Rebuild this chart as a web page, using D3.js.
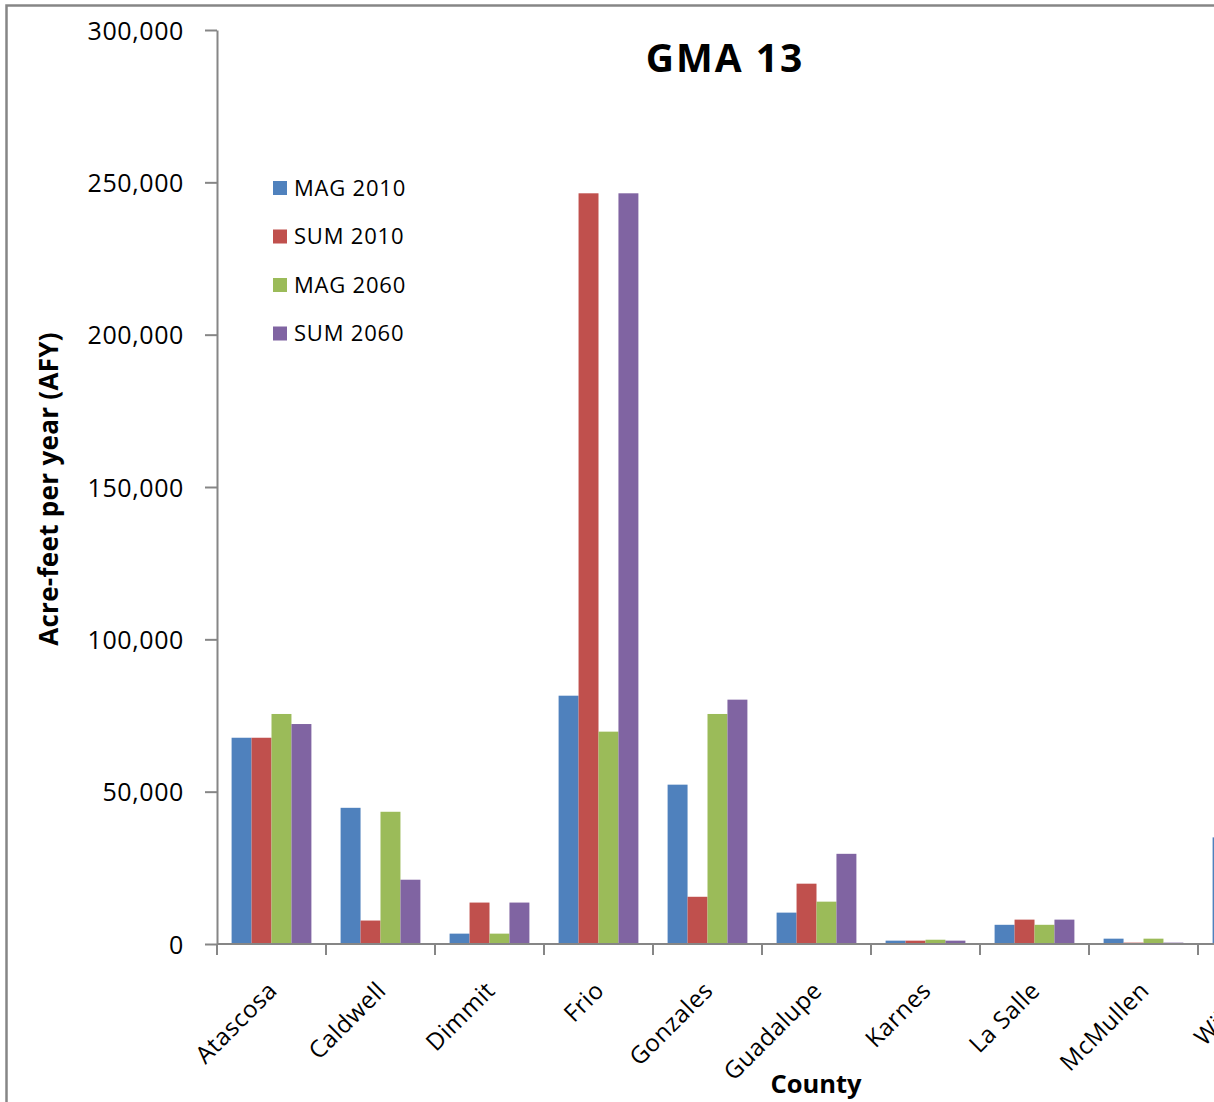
<!DOCTYPE html>
<html>
<head>
<meta charset="utf-8">
<title>GMA 13</title>
<script src="https://cdn.jsdelivr.net/npm/d3@7"></script>
<style>
  html, body { margin: 0; padding: 0; background: #fff; overflow: hidden; }
  svg { display: block; font-family: "Open Sans", "DejaVu Sans", sans-serif; }
</style>
</head>
<body>
<svg id="chart" width="1214" height="1102"></svg>
<script>
// Counties along the category axis
const categories = ["Atascosa", "Caldwell", "Dimmit", "Frio", "Gonzales", "Guadalupe", "Karnes", "La Salle", "McMullen", "Wilson"];

// Acre-feet per year for each series (null = not shown)
const mag2010 = [67700, 44700, 3400, 81500, 52300, 10300, 1100, 6300, 1750, 35000];
const sum2010 = [67700, 7700, 13600, 246400, 15500, 19800, 1100, 8000, 450, null];
const mag2060 = [75500, 43400, 3400, 69700, 75500, 13900, 1400, 6300, 1750, null];
const sum2060 = [72200, 21100, 13600, 246400, 80200, 29600, 1100, 8000, 450, null];

const seriesNames = ["MAG 2010", "SUM 2010", "MAG 2060", "SUM 2060"];
const seriesValues = [mag2010, sum2010, mag2060, sum2060];
const seriesColors = ["#4F81BD", "#C0504D", "#9BBB59", "#8064A2"];

const yTicks = [0, 50000, 100000, 150000, 200000, 250000, 300000];

const svg = d3.select("#chart");
const axisGrey = "#868686";

// Plot area
const plotLeft = 217, plotTop = 30, plotBottom = 944, step = 109.0;

// Outer chart frame
svg.append("rect")
  .attr("x", 6.5).attr("y", 5.5)
  .attr("width", 1600).attr("height", 1400)
  .attr("fill", "none").attr("stroke", axisGrey).attr("stroke-width", 2.5);

const x0 = d3.scaleBand()
  .domain(categories)
  .range([plotLeft, plotLeft + step * categories.length])
  .padding(0);

const x1 = d3.scaleBand()
  .domain(seriesNames)
  .range([14.6, step - 14.6])
  .padding(0);

const y = d3.scaleLinear().domain([0, 300000]).range([plotBottom, plotTop]);

const color = d3.scaleOrdinal().domain(seriesNames).range(seriesColors);

// Bars
const rows = categories.map((c, i) => ({
  county: c,
  values: seriesNames.map((s, k) => ({ key: s, value: seriesValues[k][i] }))
}));

const groups = svg.append("g").selectAll("g")
  .data(rows)
  .join("g")
  .attr("transform", d => `translate(${x0(d.county)},0)`);

groups.selectAll("rect")
  .data(d => d.values.filter(v => v.value != null))
  .join("rect")
  .attr("x", d => x1(d.key))
  .attr("width", x1.bandwidth())
  .attr("y", d => y(d.value))
  .attr("height", d => y(0) - y(d.value))
  .attr("fill", d => color(d.key));

// Y axis
const yAxis = svg.append("g")
  .attr("transform", `translate(${plotLeft},0)`)
  .call(d3.axisLeft(y)
    .tickValues(yTicks)
    .tickFormat(d3.format(","))
    .tickSize(12)
    .tickSizeOuter(0)
    .tickPadding(21));
yAxis.select(".domain").attr("stroke", axisGrey).attr("stroke-width", 2);
yAxis.selectAll(".tick line").attr("stroke", axisGrey).attr("stroke-width", 2);
yAxis.selectAll(".tick text")
  .attr("fill", "#000")
  .attr("font-size", 25)
  .attr("font-family", "Open Sans")
  .attr("letter-spacing", 0.6)
  .attr("dy", "0.36em");

// X axis: baseline, category boundary ticks and rotated labels
const xAxis = svg.append("g").attr("transform", `translate(0,${plotBottom})`);
xAxis.append("line")
  .attr("x1", plotLeft).attr("x2", x0.range()[1])
  .attr("stroke", axisGrey).attr("stroke-width", 2);

xAxis.selectAll("line.tick")
  .data(categories.concat(["__end"]))
  .join("line")
  .attr("class", "tick")
  .attr("x1", d => d === "__end" ? x0.range()[1] : x0(d))
  .attr("x2", d => d === "__end" ? x0.range()[1] : x0(d))
  .attr("y1", 0).attr("y2", 11)
  .attr("stroke", axisGrey).attr("stroke-width", 2);

xAxis.selectAll("text.cat")
  .data(categories)
  .join("text")
  .attr("class", "cat")
  .attr("text-anchor", "end")
  .attr("font-size", 24)
  .attr("letter-spacing", 0.5)
  .attr("transform", d => `translate(${x0(d) + x0.bandwidth() / 2 + 7},${48}) rotate(-45)`)
  .text(d => d);

// Titles
svg.append("text")
  .attr("x", 725).attr("y", 72)
  .attr("text-anchor", "middle")
  .attr("font-size", 39)
  .attr("font-weight", "bold")
  .attr("letter-spacing", 2)
  .text("GMA 13");

svg.append("text")
  .attr("transform", `translate(58,${489}) rotate(-90)`)
  .attr("text-anchor", "middle")
  .attr("font-size", 26)
  .attr("font-weight", "bold")
  .attr("letter-spacing", 0.3)
  .text("Acre-feet per year (AFY)");

svg.append("text")
  .attr("x", 816).attr("y", 1093)
  .attr("text-anchor", "middle")
  .attr("font-size", 25.5)
  .attr("font-weight", "bold")
  .text("County");

// Legend
const legend = svg.append("g").selectAll("g")
  .data(seriesNames)
  .join("g")
  .attr("transform", (d, i) => `translate(273,${188 + i * 48.5})`);

legend.append("rect")
  .attr("x", 0).attr("y", -7)
  .attr("width", 14).attr("height", 14)
  .attr("fill", d => color(d));

legend.append("text")
  .attr("x", 21).attr("dy", "0.36em")
  .attr("font-size", 22)
  .attr("letter-spacing", 0.8)
  .text(d => d);
</script>
</body>
</html>
